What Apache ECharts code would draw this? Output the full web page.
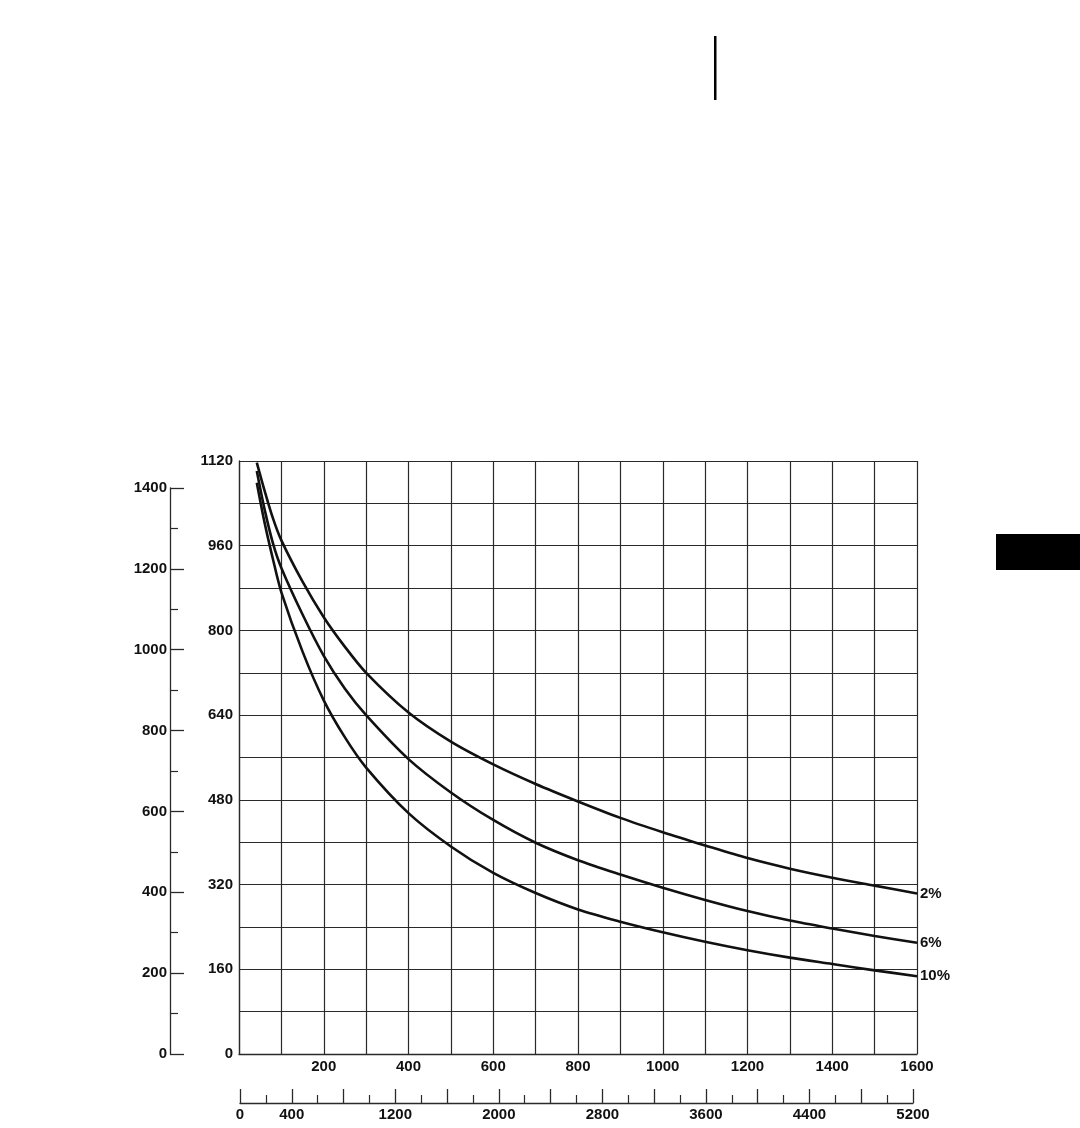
<!DOCTYPE html>
<html>
<head>
<meta charset="utf-8">
<script src="https://cdn.jsdelivr.net/npm/echarts@6/dist/echarts.min.js"></script>
<style>
html,body{margin:0;padding:0;background:#fff;}
#chart{width:1080px;height:1128px;}
</style>
</head>
<body>
<div id="chart"></div>
<script>
// ---- data ----
const xValues = [42, 60, 80, 100, 150, 200, 250, 300, 400, 500, 600, 700, 800, 900, 1000, 1100, 1200, 1300, 1400, 1500, 1600];
const curve2  = [1117, 1065, 1012, 970, 892, 825, 769, 720, 645, 590, 547, 510, 477, 446, 419, 394, 370, 350, 333, 318, 303];
const curve6  = [1101, 1030, 965, 918, 830, 752, 690, 640, 557, 494, 442, 399, 366, 339, 314, 291, 270, 252, 237, 223, 210];
const curve10 = [1079, 1005, 935, 872, 760, 668, 598, 541, 455, 392, 342, 304, 273, 250, 230, 212, 196, 182, 170, 158, 147];
const seriesNames = ['2%', '6%', '10%'];
const bottomOuterLabels = [0, 400, 1200, 2000, 2800, 3600, 4400, 5200];

const FONT = 'Liberation Sans';
const INK = '#111';
const GRIDC = '#2a2a2a';

function pairs(ys){ return xValues.map((x,i)=>[x, ys[i]]); }

const chart = echarts.init(document.getElementById('chart'), null, {renderer:'canvas'});

const labelStyle = {color: INK, fontFamily: FONT, fontWeight: 'bold', fontSize: 15};

function lineSeries(name, ys){
  return {
    type: 'line', name: name, xAxisIndex: 0, yAxisIndex: 0,
    data: pairs(ys), smooth: 0.3, showSymbol: false, symbol: 'none',
    lineStyle: {color: INK, width: 2.6},
    endLabel: {show: true, formatter: '{a}', distance: 3, ...labelStyle},
    animation: false, silent: true
  };
}

const option = {
  animation: false,
  backgroundColor: '#fff',
  grid: [
    {left: 239, top: 461, width: 678, height: 593},
    {left: 170, top: 488, width: 1, height: 566},
    {left: 240, top: 1102, width: 673, height: 1}
  ],
  xAxis: [
    {
      type: 'value', gridIndex: 0, min: 0, max: 1600, interval: 100,
      axisLine: {show: true, lineStyle: {color: GRIDC, width: 1.3}},
      axisTick: {show: false},
      axisLabel: {
        ...labelStyle, margin: 5,
        formatter: v => (v > 0 && v % 200 === 0) ? String(v) : ''
      },
      splitLine: {show: true, lineStyle: {color: GRIDC, width: 1.2}}
    },
    {type: 'value', gridIndex: 1, show: false, min: 0, max: 1},
    {
      type: 'value', gridIndex: 2, min: 0, max: 5200, interval: 400,
      position: 'bottom',
      axisLine: {show: true, lineStyle: {color: GRIDC, width: 1.3}},
      axisTick: {show: true, inside: true, length: 14, lineStyle: {color: GRIDC, width: 1.3}},
      minorTick: {show: true, splitNumber: 2, length: 8, lineStyle: {color: GRIDC, width: 1.2}},
      axisLabel: {
        ...labelStyle, margin: 4,
        formatter: v => bottomOuterLabels.indexOf(v) >= 0 ? String(v) : ''
      },
      splitLine: {show: false}
    }
  ],
  yAxis: [
    {
      type: 'value', gridIndex: 0, min: 0, max: 1120, interval: 80,
      axisLine: {show: true, lineStyle: {color: GRIDC, width: 1.3}},
      axisTick: {show: false},
      axisLabel: {
        ...labelStyle, margin: 6,
        formatter: v => (v % 160 === 0) ? String(v) : ''
      },
      splitLine: {show: true, lineStyle: {color: GRIDC, width: 1.2}}
    },
    {
      type: 'value', gridIndex: 1, min: 0, max: 1400, interval: 200,
      position: 'left',
      axisLine: {show: true, lineStyle: {color: GRIDC, width: 1.3}},
      axisTick: {show: true, inside: true, length: 14, lineStyle: {color: GRIDC, width: 1.3}},
      minorTick: {show: true, splitNumber: 2, length: 8, lineStyle: {color: GRIDC, width: 1.2}},
      axisLabel: {...labelStyle, margin: 3, formatter: v => String(v)},
      splitLine: {show: false}
    },
    {type: 'value', gridIndex: 2, show: false, min: 0, max: 1}
  ],
  series: [
    lineSeries(seriesNames[0], curve2),
    lineSeries(seriesNames[1], curve6),
    lineSeries(seriesNames[2], curve10)
  ],
  graphic: [
    {type: 'rect', left: 714, top: 36, shape: {width: 2.5, height: 64}, style: {fill: '#000'}, silent: true},
    {type: 'rect', left: 996, top: 534, shape: {width: 84, height: 36}, style: {fill: '#000'}, silent: true}
  ]
};

chart.setOption(option);
</script>
</body>
</html>
